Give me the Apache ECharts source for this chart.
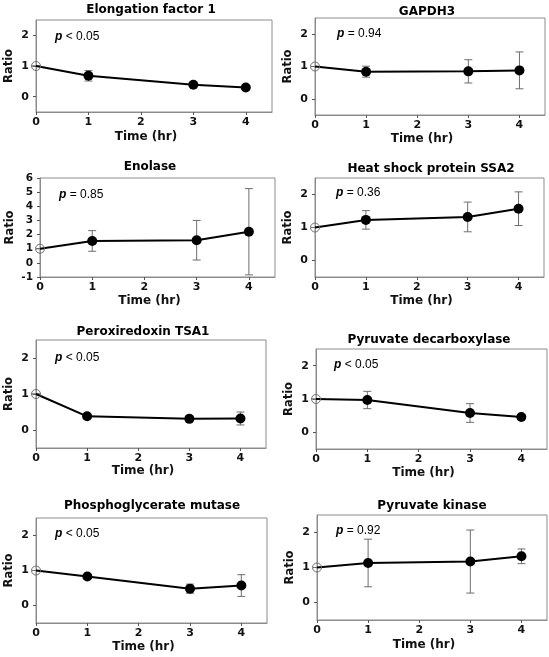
<!DOCTYPE html>
<html>
<head>
<meta charset="utf-8">
<script src="https://cdn.jsdelivr.net/npm/echarts@6/dist/echarts.min.js"></script>
<style>
html,body{margin:0;padding:0;background:#fff;}
#chart{width:549px;height:657px;}
</style>
</head>
<body>
<div id="chart"></div>
<script>
// ---- data ----
const panelTitles = ['Elongation factor 1', 'GAPDH3', 'Enolase', 'Heat shock protein SSA2',
  'Peroxiredoxin TSA1', 'Pyruvate decarboxylase', 'Phosphoglycerate mutase', 'Pyruvate kinase'];
const pSymbols = ['<', '=', '=', '=', '<', '<', '<', '='];
const pValues = ['0.05', '0.94', '0.85', '0.36', '0.05', '0.05', '0.05', '0.92'];
const times = [0, 1, 3, 4];
const xTicks = [0, 1, 2, 3, 4];
const yTicks = [0, 1, 2];
const yTicksEnolase = [-1, 0, 1, 2, 3, 4, 5, 6];

const ef1Mean = [1, 0.68, 0.39, 0.30];
const ef1Err = [0, 0.17, 0.05, 0.04];
const gapdh3Mean = [1, 0.84, 0.85, 0.88];
const gapdh3Err = [0, 0.17, 0.36, 0.57];
const enolaseMean = [1, 1.55, 1.6, 2.2];
const enolaseErr = [0, 0.73, 1.4, 3.05];
const ssa2Mean = [1, 1.23, 1.32, 1.57];
const ssa2Err = [0, 0.28, 0.45, 0.51];
const tsa1Mean = [1, 0.38, 0.31, 0.32];
const tsa1Err = [0, 0.04, 0.07, 0.18];
const pdcMean = [1, 0.97, 0.58, 0.46];
const pdcErr = [0, 0.26, 0.28, 0.07];
const pgmMean = [1, 0.83, 0.48, 0.57];
const pgmErr = [0, 0.05, 0.13, 0.31];
const pkMean = [1, 1.13, 1.17, 1.32];
const pkErr = [0, 0.68, 0.9, 0.21];

const means = [ef1Mean, gapdh3Mean, enolaseMean, ssa2Mean, tsa1Mean, pdcMean, pgmMean, pkMean];
const errs = [ef1Err, gapdh3Err, enolaseErr, ssa2Err, tsa1Err, pdcErr, pgmErr, pkErr];

// ---- layout ----
const gridBoxes = [[36, 20, 236, 92], [315, 18, 230, 97], [40, 178, 235, 99], [315, 178, 229, 99],
  [36, 340, 230, 108], [316, 349, 231, 100], [36, 518, 231, 105], [317, 515, 230, 105]];
const titlePos = [[151, 10], [427, 12], [150, 167], [431, 169], [143, 332], [429, 340], [152, 506], [432, 506]];
const pPos = [[55, 37], [337, 34], [59, 195], [336, 193], [55, 358], [334, 365], [55, 534], [336, 531]];
const xNameGaps = [19, 18, 18, 18, 16, 18, 18, 19];

const boldFont = 'DejaVu Sans';

const grid = [], xAxis = [], yAxis = [], series = [], graphic = [];

gridBoxes.forEach((b, i) => {
  grid.push({ left: b[0], top: b[1], width: b[2], height: b[3], show: true,
    borderColor: '#8c8c8c', borderWidth: 1, backgroundColor: 'transparent' });
  const isEno = i === 2;
  xAxis.push({
    gridIndex: i, type: 'value', min: 0, max: 4.5,
    axisLine: { show: true, onZero: false, lineStyle: { color: '#8c8c8c', width: 1 } },
    axisTick: { show: true, length: 3, customValues: xTicks, lineStyle: { color: '#555' } },
    axisLabel: { customValues: xTicks, margin: 5, color: '#111', fontFamily: boldFont, fontWeight: 'bold', fontSize: 11 },
    splitLine: { show: false },
    name: 'Time (hr)', nameLocation: 'middle', nameGap: xNameGaps[i],
    nameTextStyle: { color: '#111', fontFamily: boldFont, fontWeight: 'bold', fontSize: 12, padding: [0, 16, 0, 0] }
  });
  yAxis.push({
    gridIndex: i, type: 'value',
    min: isEno ? -1 : -0.5, max: isEno ? 6 : 2.5,
    axisLine: { show: true, onZero: false, lineStyle: { color: '#8c8c8c', width: 1 } },
    axisTick: { show: true, length: 3, customValues: isEno ? yTicksEnolase : yTicks, lineStyle: { color: '#555' } },
    axisLabel: { customValues: isEno ? yTicksEnolase : yTicks, margin: 7, color: '#111', fontFamily: boldFont, fontWeight: 'bold', fontSize: isEno ? 10.5 : 11 },
    splitLine: { show: false },
    name: 'Ratio', nameLocation: 'middle', nameGap: isEno ? 24 : 21, nameRotate: 90,
    nameTextStyle: { color: '#111', fontFamily: boldFont, fontWeight: 'bold', fontSize: 11.5 }
  });

  // error bars
  series.push({
    type: 'custom', xAxisIndex: i, yAxisIndex: i, z: 1, silent: true,
    data: times.map((t, k) => [t, means[i][k], errs[i][k]]),
    renderItem: function (params, api) {
      const x = api.value(0), m = api.value(1), e = api.value(2);
      const top = api.coord([x, m + e]);
      const bot = api.coord([x, m - e]);
      const hw = 4;
      const st = { stroke: '#6e6e6e', lineWidth: 1 };
      return {
        type: 'group',
        children: [
          { type: 'line', shape: { x1: top[0], y1: top[1], x2: bot[0], y2: bot[1] }, style: st },
          { type: 'line', shape: { x1: top[0] - hw, y1: top[1], x2: top[0] + hw, y2: top[1] }, style: st },
          { type: 'line', shape: { x1: bot[0] - hw, y1: bot[1], x2: bot[0] + hw, y2: bot[1] }, style: st }
        ]
      };
    }
  });

  // mean line
  series.push({
    type: 'line', xAxisIndex: i, yAxisIndex: i, z: 3, silent: true,
    symbol: 'circle', symbolSize: 10, showAllSymbol: true,
    lineStyle: { color: '#000', width: 2 },
    itemStyle: { color: '#000' },
    data: times.map((t, k) => {
      const d = { value: [t, means[i][k]] };
      if (k === 0) {
        d.symbolSize = 9;
        d.itemStyle = { color: 'rgba(255,255,255,0)', borderColor: '#6e6e6e', borderWidth: 1 };
      }
      return d;
    })
  });

  // panel title
  graphic.push({
    type: 'text', x: titlePos[i][0], y: titlePos[i][1], silent: true,
    style: { text: panelTitles[i], fill: '#000', font: 'bold 12px "' + boldFont + '"', align: 'center', verticalAlign: 'middle' }
  });
  // p value
  graphic.push({
    type: 'text', x: pPos[i][0], y: pPos[i][1], silent: true,
    style: {
      text: '{p|p} ' + pSymbols[i] + ' ' + pValues[i],
      fill: '#000', fontFamily: 'Liberation Sans', fontSize: 12, align: 'left', verticalAlign: 'middle',
      rich: { p: { fontFamily: 'Liberation Sans', fontWeight: 'bold', fontStyle: 'italic', fontSize: 12, fill: '#000' } }
    }
  });
});

const chart = echarts.init(document.getElementById('chart'), null, { renderer: 'canvas' });
chart.setOption({
  animation: false,
  backgroundColor: '#fff',
  grid: grid, xAxis: xAxis, yAxis: yAxis, series: series, graphic: graphic
});
</script>
</body>
</html>
